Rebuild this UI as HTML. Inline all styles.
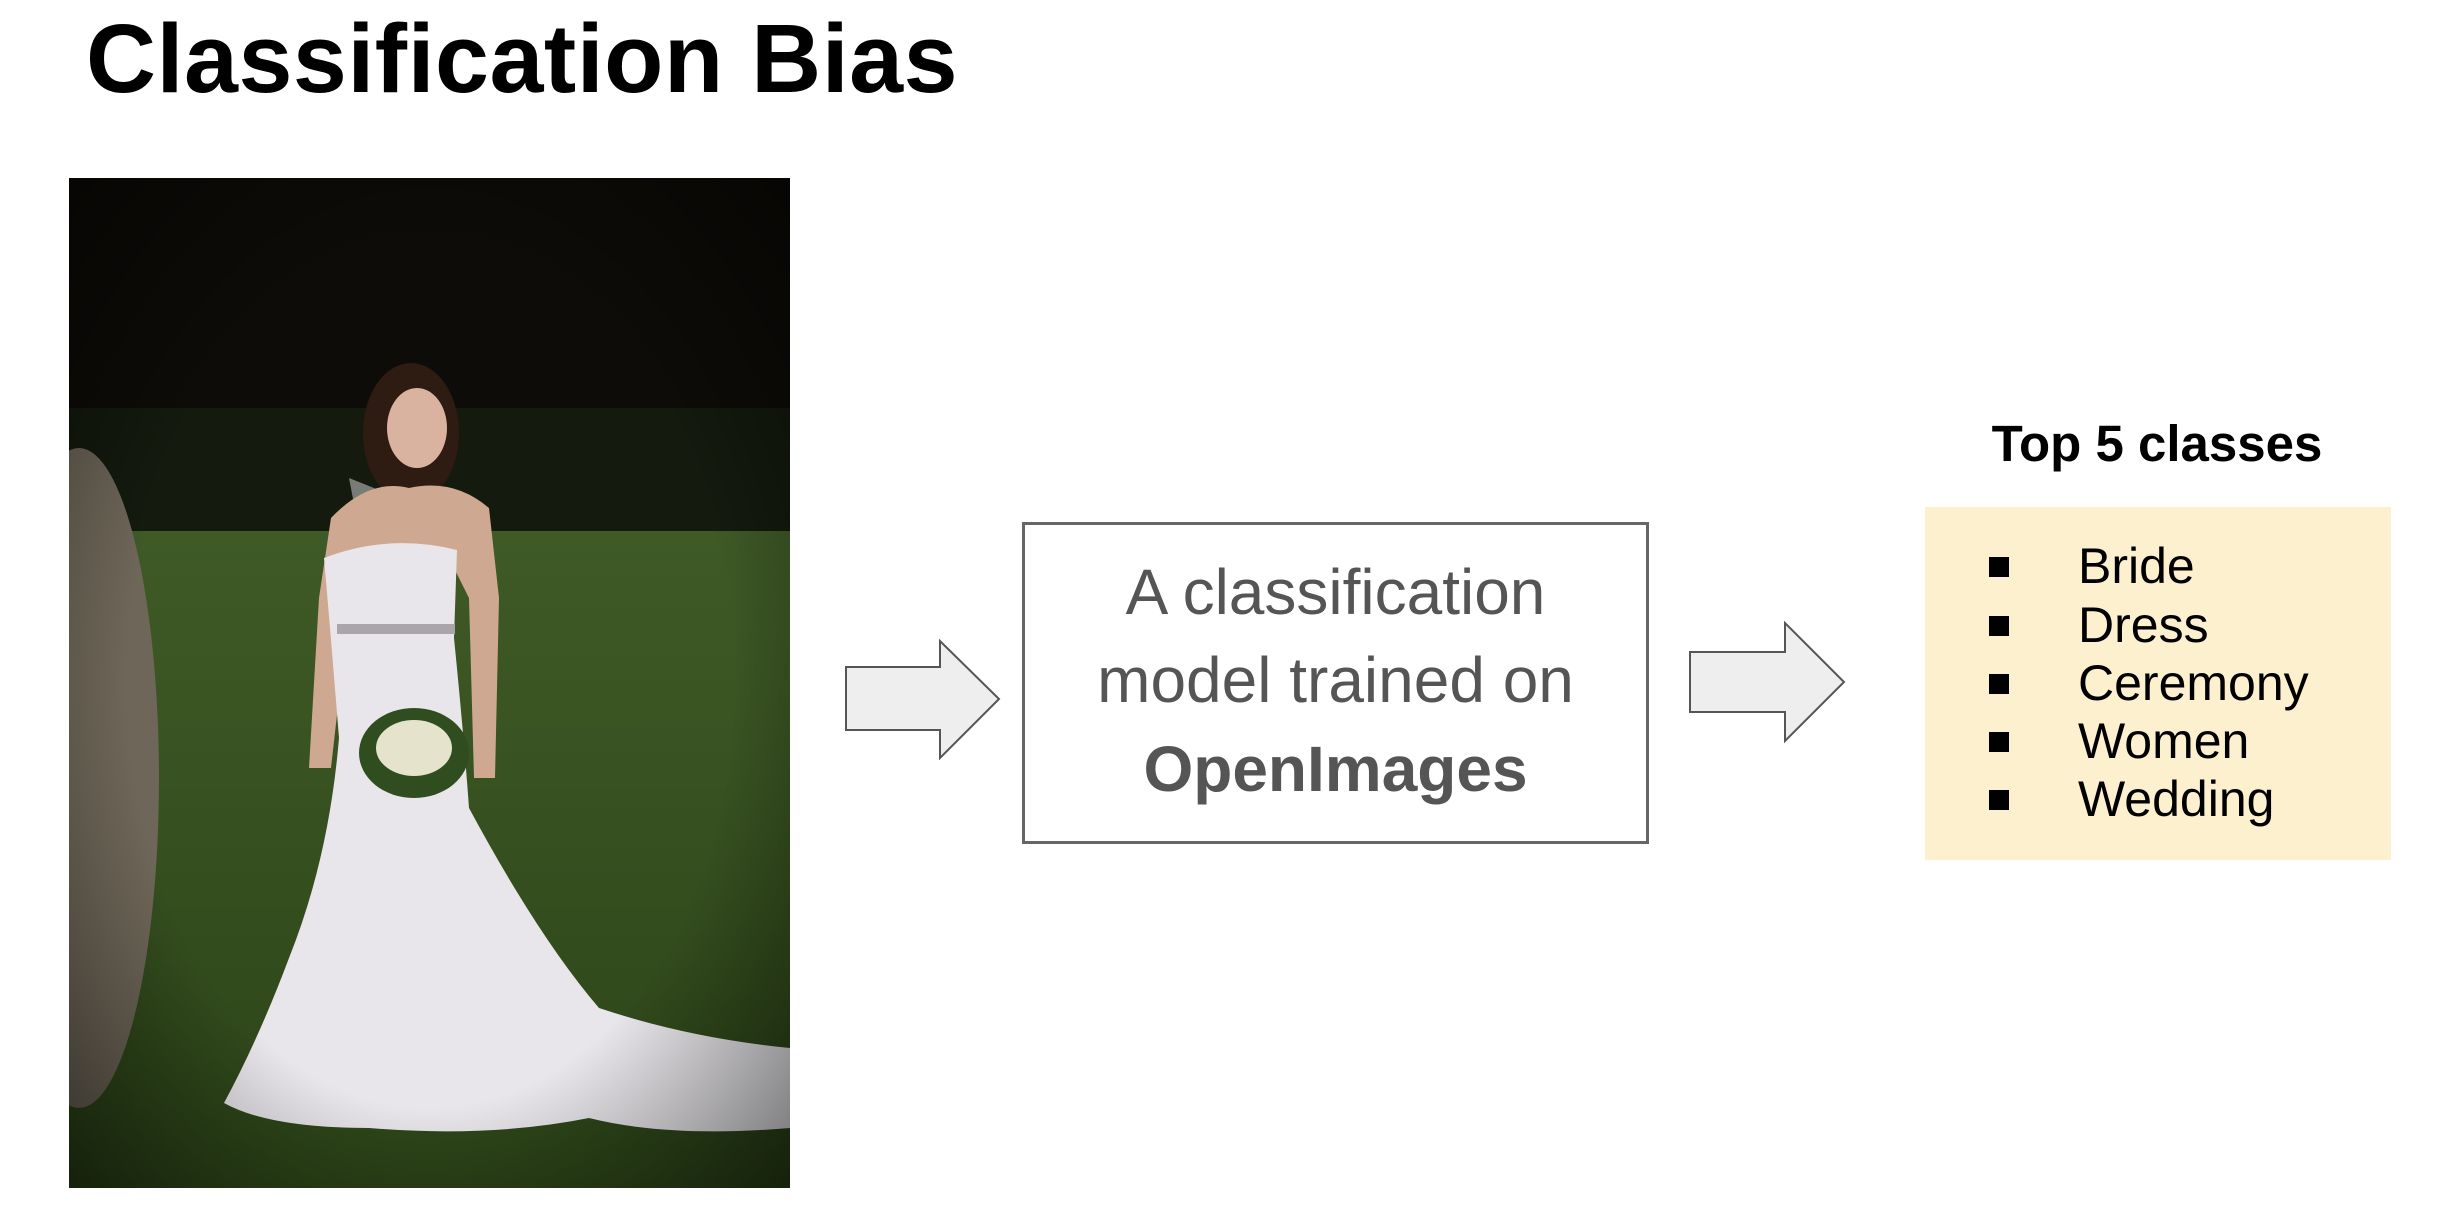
<!DOCTYPE html>
<html><head><meta charset="utf-8"><style>
html,body{margin:0;padding:0;background:#fff;width:2458px;height:1218px;overflow:hidden;position:relative;font-family:"Liberation Sans",sans-serif}
.a{position:absolute}
.t{left:86px;top:4px;font-size:97px;font-weight:bold;color:#000;line-height:110px;white-space:nowrap;letter-spacing:0.5px}
.box{left:1022px;top:522px;width:621px;height:316px;border:3px solid #666;}
.bt{left:1022px;width:627px;text-align:center;color:#555;font-size:64px;line-height:88px;white-space:nowrap}
.yl{left:1925px;top:507px;width:466px;height:353px;background:#fcf0cf}
.li{left:2078px;font-size:50px;color:#000;line-height:58px}
.sq{left:1989px;width:20px;height:20px;background:#000}
</style></head><body>
<div class="a t">Classification Bias</div>

<svg class="a" style="left:69px;top:178px" width="721" height="1010" viewBox="0 0 721 1010">
<defs>
<linearGradient id="g" x1="0" y1="0" x2="0" y2="1"><stop offset="0" stop-color="#3f5a26"/><stop offset="1" stop-color="#2c4418"/></linearGradient>
<radialGradient id="v" cx="0.5" cy="0.5" r="0.7"><stop offset="0.6" stop-color="#000" stop-opacity="0"/><stop offset="1" stop-color="#000" stop-opacity="0.5"/></radialGradient>
</defs>
<rect width="721" height="1010" fill="#0e0c08"/>
<rect x="0" y="230" width="721" height="130" fill="#141a0e"/>
<rect x="0" y="353" width="721" height="657" fill="url(#g)"/>
<ellipse cx="10" cy="600" rx="80" ry="330" fill="#6e6658"/>
<path d="M280 300 L330 320 L370 560 L330 560 Z" fill="#ddd" opacity="0.5"/>
<ellipse cx="342" cy="255" rx="48" ry="70" fill="#2e1c12"/>
<ellipse cx="348" cy="250" rx="30" ry="40" fill="#d9b3a0"/>
<path d="M262 340 Q300 300 340 310 Q385 300 420 330 L430 420 L426 600 L405 600 L400 420 L380 380 L300 380 L280 430 L262 590 L240 590 L250 420 Z" fill="#cfa891"/>
<path d="M255 380 Q320 355 388 372 L385 460 Q395 560 400 630 Q470 760 530 830 Q620 860 721 870 L721 950 Q600 960 520 940 Q420 960 300 950 Q200 950 155 925 Q190 860 220 780 Q260 680 270 560 Q262 460 255 380 Z" fill="#e8e6ea"/>
<rect x="268" y="446" width="118" height="10" fill="#a9a5a8"/>
<ellipse cx="345" cy="575" rx="55" ry="45" fill="#2f4d1e"/>
<ellipse cx="345" cy="570" rx="38" ry="28" fill="#e6e3cc"/>
<rect width="721" height="1010" fill="url(#v)"/>
</svg>

<svg class="a" style="left:0;top:0" width="2458" height="1218">
<polygon points="846,667 940,667 940,641 999,699 940,758 940,730 846,730" fill="#eeeeee" stroke="#555" stroke-width="2"/>
<polygon points="1690,652 1785,652 1785,623 1844,682 1785,741 1785,712 1690,712" fill="#eeeeee" stroke="#555" stroke-width="2"/>
</svg>

<div class="a box"></div>
<div class="a bt" style="top:548px">A classification</div>
<div class="a bt" style="top:636px">model trained on</div>
<div class="a bt" style="top:725px;font-weight:bold">OpenImages</div>

<div class="a" style="left:1907px;top:414px;width:500px;text-align:center;font-size:51px;font-weight:bold;line-height:60px">Top 5 classes</div>
<div class="a yl"></div>
<div class="a sq" style="top:557px"></div><div class="a li" style="top:537px">Bride</div>
<div class="a sq" style="top:616px"></div><div class="a li" style="top:596px">Dress</div>
<div class="a sq" style="top:674px"></div><div class="a li" style="top:654px">Ceremony</div>
<div class="a sq" style="top:732px"></div><div class="a li" style="top:712px">Women</div>
<div class="a sq" style="top:790px"></div><div class="a li" style="top:770px">Wedding</div>
</body></html>
